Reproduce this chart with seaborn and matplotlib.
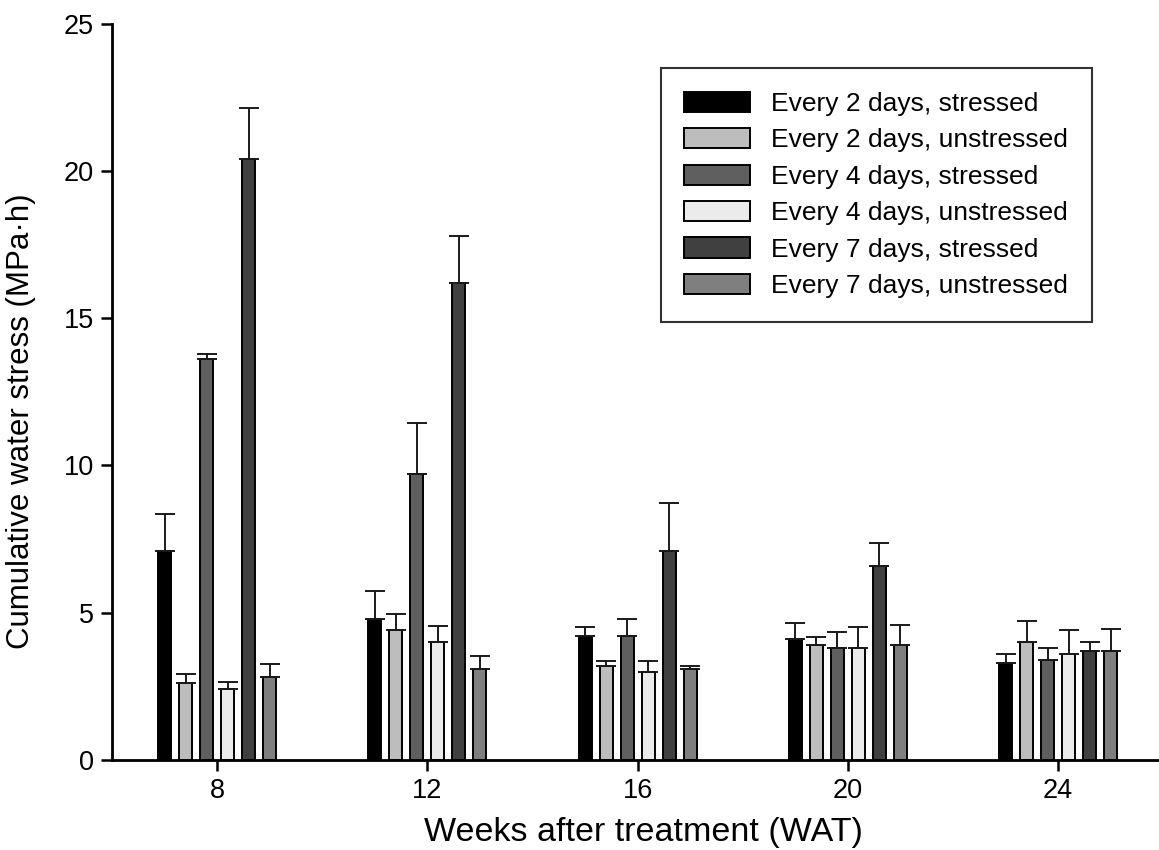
import numpy as np
import pandas as pd
import seaborn as sns
import matplotlib.pyplot as plt

weeks = ["8", "12", "16", "20", "24"]
treatments = [
    "Every 2 days, stressed",
    "Every 2 days, unstressed",
    "Every 4 days, stressed",
    "Every 4 days, unstressed",
    "Every 7 days, stressed",
    "Every 7 days, unstressed",
]
# mean values per treatment (one entry per week)
means = {
    "Every 2 days, stressed": [7.1, 4.8, 4.2, 4.1, 3.3],
    "Every 2 days, unstressed": [2.6, 4.4, 3.2, 3.9, 4.0],
    "Every 4 days, stressed": [13.6, 9.7, 4.2, 3.8, 3.4],
    "Every 4 days, unstressed": [2.4, 4.0, 3.0, 3.8, 3.6],
    "Every 7 days, stressed": [20.4, 16.2, 7.1, 6.6, 3.7],
    "Every 7 days, unstressed": [2.8, 3.1, 3.1, 3.9, 3.7],
}
# upper error (SE) per treatment
errors = {
    "Every 2 days, stressed": [1.25, 0.95, 0.3, 0.55, 0.3],
    "Every 2 days, unstressed": [0.33, 0.55, 0.15, 0.28, 0.73],
    "Every 4 days, stressed": [0.2, 1.75, 0.57, 0.56, 0.4],
    "Every 4 days, unstressed": [0.26, 0.56, 0.35, 0.72, 0.82],
    "Every 7 days, stressed": [1.73, 1.6, 1.63, 0.77, 0.32],
    "Every 7 days, unstressed": [0.46, 0.44, 0.1, 0.68, 0.75],
}
colors = ["#000000", "#bdbdbd", "#5f5f5f", "#ebebeb", "#404040", "#7f7f7f"]

rows = []
for t in treatments:
    for i, w in enumerate(weeks):
        rows.append({"Week": w, "Treatment": t, "Value": means[t][i]})
df = pd.DataFrame(rows)

sns.set_style("ticks")
plt.rcParams["font.family"] = ["Liberation Sans", "DejaVu Sans"]
plt.rcParams.update({
    "text.color": "black", "axes.labelcolor": "black",
    "xtick.color": "black", "ytick.color": "black", "axes.edgecolor": "black",
})

fig = plt.figure(figsize=(11.59, 8.5), dpi=100)
ax = fig.add_axes([0.0966, 0.106, 0.9034, 0.866])

sns.barplot(
    data=df, x="Week", y="Value", hue="Treatment", order=weeks, hue_order=treatments,
    palette=colors, width=0.6, gap=0.38, edgecolor="black", linewidth=1.4,
    errorbar=None, ax=ax,
)

# error bars on top of each bar (upper only)
for cont, t in zip(ax.containers, treatments):
    xs = [p.get_x() + p.get_width() / 2 for p in cont.patches]
    up = errors[t]
    ax.errorbar(xs, means[t], yerr=[np.zeros(len(up)), up], fmt="none", ecolor="#1a1a1a",
                elinewidth=1.4, capsize=7.5, capthick=1.4, zorder=1)

ax.set_ylim(0, 25)
ax.set_xlim(-0.5, 4.48)
ax.set_yticks([0, 5, 10, 15, 20, 25])
ax.tick_params(axis="both", labelsize=19.5, width=1.8, length=8, direction="out", pad=5)
for s in ["left", "bottom"]:
    ax.spines[s].set_linewidth(2)
sns.despine(ax=ax)
ax.set_xlabel("Weeks after treatment (WAT)", fontsize=24.5)
ax.xaxis.set_label_coords(0.508, -0.078)
ax.set_ylabel("Cumulative water stress (MPa\u00b7h)", fontsize=22.5)
ax.yaxis.set_label_coords(-0.073, 0.46)

leg = ax.legend(
    loc="upper right", bbox_to_anchor=(0.936, 0.940), fontsize=19, frameon=True,
    fancybox=False, edgecolor="black", handlelength=2.5, handleheight=0.8,
    labelspacing=0.46, borderpad=0.9, handletextpad=0.8, borderaxespad=0,
)
leg.get_frame().set_linewidth(1.5)

fig.savefig("out.png", dpi=100)
